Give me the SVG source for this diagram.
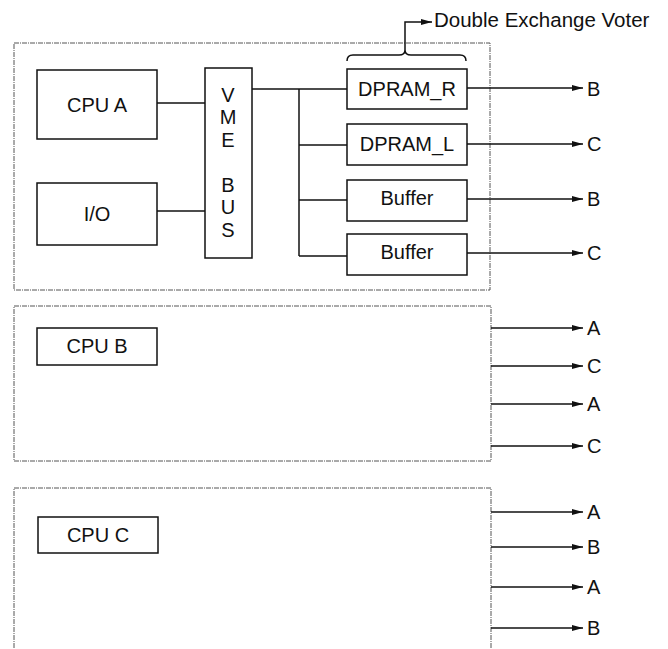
<svg xmlns="http://www.w3.org/2000/svg" width="668" height="649" viewBox="0 0 668 649">
<defs>
<marker id="ah" markerWidth="11" markerHeight="7" refX="11" refY="3.5" orient="auto" markerUnits="userSpaceOnUse">
<path d="M0,0.5 L11,3.5 L0,6.5 Z" fill="#111"/>
</marker>
<style>
.frame{fill:none;stroke:#555;stroke-width:1;stroke-dasharray:5 1 1 1}
.box{fill:#fff;stroke:#111;stroke-width:1.5}
.ln{fill:none;stroke:#111;stroke-width:1.5}
.arr{fill:none;stroke:#111;stroke-width:1.5;marker-end:url(#ah)}
text{font-family:"Liberation Sans",Arial,sans-serif;font-size:20px;fill:#111}
.c{text-anchor:middle;dominant-baseline:central}
.o{dominant-baseline:central}
</style>
</defs>
<rect width="668" height="649" fill="#fff"/>
<g id="frameA"><rect class="frame" x="14" y="43" width="476" height="247"/></g>
<g id="frameB"><rect class="frame" x="14" y="306" width="477" height="155"/></g>
<g id="frameC"><rect class="frame" x="14" y="488" width="477" height="175"/></g>
<g id="connectors">
<path class="ln" d="M157,103 H205"/>
<path class="ln" d="M157,211 H205"/>
<path class="ln" d="M252,89 H347"/>
<path class="ln" d="M299,89 V256"/>
<path class="ln" d="M299,145 H347"/>
<path class="ln" d="M299,200 H347"/>
<path class="ln" d="M299,256 H347"/>
<path class="arr" d="M467,88 H583"/>
<path class="arr" d="M467,144 H583"/>
<path class="arr" d="M467,199 H583"/>
<path class="arr" d="M467,253 H583"/>
<path class="arr" d="M491,328 H583"/>
<path class="arr" d="M491,366 H583"/>
<path class="arr" d="M491,404 H583"/>
<path class="arr" d="M491,446 H583"/>
<path class="arr" d="M491,512 H583"/>
<path class="arr" d="M491,547 H583"/>
<path class="arr" d="M491,587 H583"/>
<path class="arr" d="M491,628 H583"/>
<path class="ln" d="M347,61 Q347,55 353,55 L399,55 Q405,55 405,50 Q405,55 411,55 L460,55 Q466,55 466,61"/>
<path class="arr" d="M405,50 V22 H432"/>
</g>
<g id="cpuA"><rect class="box" x="37" y="70" width="120" height="69"/><text class="c" x="97" y="105">CPU A</text></g>
<g id="io"><rect class="box" x="37" y="183" width="120" height="62"/><text class="c" x="97" y="214">I/O</text></g>
<g id="vmebus"><rect class="box" x="205" y="68" width="47" height="190"/>
<text class="c" x="228" y="95">V</text><text class="c" x="228" y="117">M</text><text class="c" x="228" y="140">E</text>
<text class="c" x="228" y="185">B</text><text class="c" x="228" y="207">U</text><text class="c" x="228" y="230">S</text></g>
<g id="dpramR"><rect class="box" x="347" y="69" width="120" height="40"/><text class="c" x="407" y="89">DPRAM_R</text></g>
<g id="dpramL"><rect class="box" x="347" y="124" width="120" height="41"/><text class="c" x="407" y="144">DPRAM_L</text></g>
<g id="buffer1"><rect class="box" x="347" y="180" width="120" height="41"/><text class="c" x="407" y="198">Buffer</text></g>
<g id="buffer2"><rect class="box" x="347" y="234" width="120" height="41"/><text class="c" x="407" y="252">Buffer</text></g>
<g id="voter"><text class="o" x="434" y="19" style="font-size:20.5px">Double Exchange Voter</text></g>
<g id="cpuB"><rect class="box" x="37" y="328" width="120" height="37"/><text class="c" x="97" y="346">CPU B</text></g>
<g id="cpuC"><rect class="box" x="38" y="517" width="120" height="36"/><text class="c" x="98" y="535">CPU C</text></g>
<g id="labels">
<text class="o" x="587" y="89">B</text>
<text class="o" x="587" y="144">C</text>
<text class="o" x="587" y="199">B</text>
<text class="o" x="587" y="253">C</text>
<text class="o" x="587" y="328">A</text>
<text class="o" x="587" y="366">C</text>
<text class="o" x="587" y="404">A</text>
<text class="o" x="587" y="446">C</text>
<text class="o" x="587" y="512">A</text>
<text class="o" x="587" y="547">B</text>
<text class="o" x="587" y="587">A</text>
<text class="o" x="587" y="628">B</text>
</g>
</svg>
